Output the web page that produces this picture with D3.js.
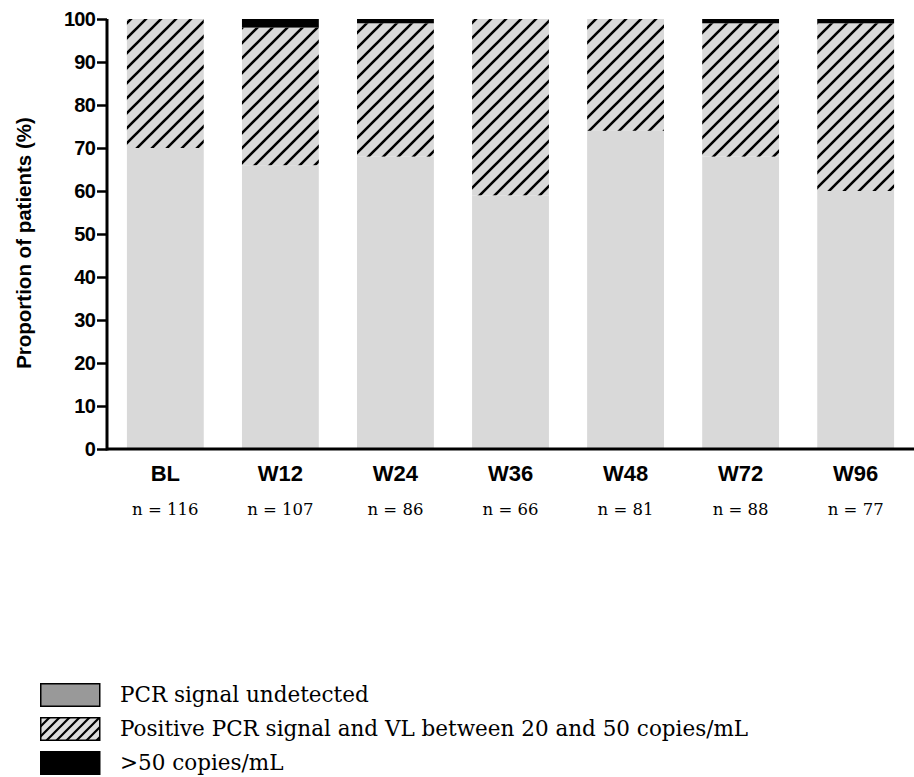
<!DOCTYPE html>
<html>
<head>
<meta charset="utf-8">
<script src="https://cdn.jsdelivr.net/npm/d3@7"></script>
<style>
  body { margin: 0; background: #fff; }
  svg { display: block; }
</style>
</head>
<body>
<svg id="chart" width="914" height="777"></svg>
<script>
// values (percent of patients)
const categories = ['BL', 'W12', 'W24', 'W36', 'W48', 'W72', 'W96'];
const nValues = [116, 107, 86, 66, 81, 88, 77];
const undetected = [70, 66, 68, 59, 74, 68, 60];
const positiveLow = [30, 32, 31, 41, 26, 31, 39];
const above50 = [0, 2, 1, 0, 0, 1, 1];
const yTicks = [0, 10, 20, 30, 40, 50, 60, 70, 80, 90, 100];
const legendLabels = [
    'PCR signal undetected',
    'Positive PCR signal and VL between 20 and 50 copies/mL',
    '>50 copies/mL'
];

const svg = d3.select('#chart');
const width = +svg.attr('width');

const sans = '"Liberation Sans", Arial, sans-serif';
const serif = '"DejaVu Serif", "Liberation Serif", serif';
const barGrey = '#d9d9d9';

const margin = { top: 19, left: 107 };
const plotBottom = 449;

const keys = ['undetected', 'positiveLow', 'above50'];
const rows = categories.map((c, i) => ({
    cat: c,
    undetected: undetected[i],
    positiveLow: positiveLow[i],
    above50: above50[i]
}));
const series = d3.stack().keys(keys)(rows);

const x = d3.scaleBand()
    .domain(categories)
    .range([margin.left, width])
    .paddingInner(0.332)
    .paddingOuter(0.173);

const y = d3.scaleLinear()
    .domain([0, 100])
    .range([plotBottom, margin.top]);

// hatch patterns
const defs = svg.append('defs');
const makeHatch = (id, s, sw, bg) => {
    const p = defs.append('pattern')
        .attr('id', id)
        .attr('patternUnits', 'userSpaceOnUse')
        .attr('width', s)
        .attr('height', s);
    p.append('rect').attr('width', s).attr('height', s).attr('fill', bg);
    p.append('path')
        .attr('d', `M0,${s} L${s},0 M${-s / 2},${s / 2} L${s / 2},${-s / 2} M${s / 2},${s * 1.5} L${s * 1.5},${s / 2}`)
        .attr('stroke', '#000')
        .attr('stroke-width', sw);
};
makeHatch('hatch', 15, 2.6, barGrey);
makeHatch('hatchSmall', 10, 2.2, '#dcdcdc');

const fills = {
    undetected: barGrey,
    positiveLow: 'url(#hatch)',
    above50: '#000'
};

svg.append('g')
    .selectAll('g')
    .data(series)
    .join('g')
        .attr('fill', d => fills[d.key])
    .selectAll('rect')
    .data(d => d)
    .join('rect')
        .attr('x', d => x(d.data.cat))
        .attr('y', d => y(d[1]))
        .attr('width', x.bandwidth())
        .attr('height', d => y(d[0]) - y(d[1]));

// y axis
const yAxis = d3.axisLeft(y)
    .tickValues(yTicks)
    .tickSize(10)
    .tickSizeOuter(0)
    .tickPadding(2);

const yAxisG = svg.append('g')
    .attr('transform', `translate(${margin.left},0)`)
    .call(yAxis);

yAxisG.select('.domain')
    .attr('stroke-width', 3)
    .attr('d', `M0,${plotBottom + 1.5}V${margin.top}`);
yAxisG.selectAll('.tick line').attr('stroke-width', 2.5);
yAxisG.selectAll('.tick text')
    .attr('font-family', sans)
    .attr('font-weight', 'bold')
    .attr('font-size', 20)
    .attr('letter-spacing', -0.8)
    .attr('fill', '#000');

svg.append('text')
    .attr('transform', `translate(31,${(margin.top + plotBottom) / 2 + 9}) rotate(-90)`)
    .attr('text-anchor', 'middle')
    .attr('font-family', sans)
    .attr('font-weight', 'bold')
    .attr('font-size', 20.5)
    .text('Proportion of patients (%)');

// x axis
const xAxis = d3.axisBottom(x)
    .tickSize(0)
    .tickPadding(16);

const xAxisG = svg.append('g')
    .attr('transform', `translate(0,${plotBottom})`)
    .call(xAxis);

xAxisG.select('.domain')
    .attr('stroke-width', 3)
    .attr('d', `M${margin.left},0H${width}`);
xAxisG.selectAll('.tick text')
    .attr('font-family', sans)
    .attr('font-weight', 'bold')
    .attr('font-size', 22)
    .attr('fill', '#000');

// n labels under each group
svg.append('g')
    .selectAll('text')
    .data(categories)
    .join('text')
        .attr('x', d => x(d) + x.bandwidth() / 2)
        .attr('y', 515)
        .attr('text-anchor', 'middle')
        .attr('font-family', serif)
        .attr('font-size', 16.5)
        .text((d, i) => `n = ${nValues[i]}`);

// legend
const legendFills = ['#999999', 'url(#hatchSmall)', '#000'];
const legend = svg.append('g')
    .attr('transform', 'translate(40,683)');

const item = legend.selectAll('g')
    .data(legendLabels)
    .join('g')
        .attr('transform', (d, i) => `translate(0,${i * 34})`);

item.append('rect')
    .attr('x', 0.75)
    .attr('y', 0.75)
    .attr('width', 59)
    .attr('height', 22.5)
    .attr('fill', (d, i) => legendFills[i])
    .attr('stroke', '#000')
    .attr('stroke-width', 1.5);

item.append('text')
    .attr('x', 80)
    .attr('y', 19)
    .attr('font-family', serif)
    .attr('font-size', 21.5)
    .text(d => d);
</script>
</body>
</html>
